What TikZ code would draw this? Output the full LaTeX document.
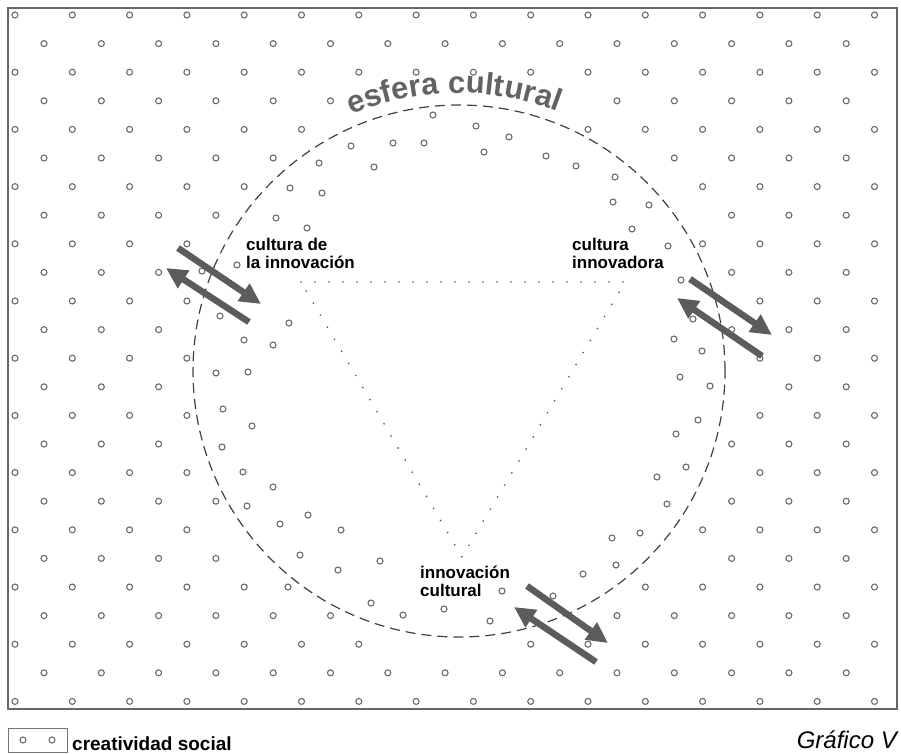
\documentclass[tikz,border=0pt]{standalone}
\usepackage{fontspec}
\setmainfont{Liberation Sans}
\usetikzlibrary{arrows.meta, decorations.text}
\definecolor{dotgray}{HTML}{6A6A6A}
\definecolor{arrowgray}{HTML}{5C5C5C}
\definecolor{titlegray}{HTML}{636363}
\tikzset{
    dot/.style={draw=dotgray, line width=1.1pt},
    flow/.style={-{Triangle[length=21pt, width=20pt]}, line width=6.5pt, arrowgray},
    lbl/.style={anchor=north west, inner sep=0pt, align=left, font=\fontsize{17}{18}\selectfont\bfseries},
    sphere/.style={draw=black!75, line width=1.2pt, dash pattern=on 10pt off 6pt},
    triline/.style={draw=black!65, line width=1.9pt, line cap=round, dash pattern=on 0pt off 14pt}
}

\begin{document}
\begin{tikzpicture}[x=1pt, y=1pt]
    \useasboundingbox (0,0) rectangle (901,-753);
    \draw[black!60, line width=1.4pt] (8,-8) rectangle (897,-709);

    % creatividad social: grid outside the sphere
    \foreach \k in {0,...,24}{
        \foreach \j in {0,...,15}{
            \pgfmathsetmacro\xx{(isodd(\k) ? 44 : 15) + 57.3*\j}
            \pgfmathsetmacro\yy{15 + 28.6*\k}
            \pgfmathtruncatemacro\keep{(veclen(\xx-459,\yy-371) > 271) && (\xx < 890) && !(\k==22 && (\j==7 || \j==8)) && !(\k==13 && \j==12) && !(\k==19 && \j==11) && !(\k==3 && \j>5 && \j<10)}
            \ifnum\keep=1 \draw[dot] (\xx,-\yy) circle[radius=3pt]; \fi
        }
    }
    % dots drawn inward along the sphere
    \foreach \x/\y in {290/188, 276/218, 307/228, 322/193, 319/163, 351/146, 374/167, 393/143,
        424/143, 433/115, 476/126, 484/152, 509/137, 546/156, 576/166,
        615/177, 613/202, 649/205, 632/229, 668/246, 681/280, 693/319, 674/339, 702/351,
        680/377, 710/386, 698/420, 676/434, 686/467, 657/477, 667/504, 640/533, 612/538, 616/565,
        583/574, 553/596, 502/591, 490/621, 444/609, 403/615, 371/603, 338/570, 380/561,
        341/530, 308/515, 300/555, 288/587, 280/524, 247/506,
        273/487, 243/472, 222/447, 252/426, 223/409, 248/372, 216/373, 273/345, 244/340,
        289/323, 220/316, 237/265, 202/271}
        \draw[dot] (\x,-\y) circle[radius=3pt];

    % esfera cultural
    \draw[sphere] (459,-371) circle[radius=266pt];
    \path[decorate, decoration={text along path, text align=center,
        text={|\fontsize{31}{31}\selectfont\bfseries\color{titlegray}|esfera cultural}}]
        (459,-371) ++(121:278pt) arc[start angle=121, end angle=61, radius=278pt];

    % triangle
    \coordinate (vcdi) at (301,-282);
    \coordinate (vcin) at (625,-282);
    \coordinate (vic) at (462,-557);
    \draw[triline] (vcdi) -- (vcin) -- (vic) -- cycle;

    % arrows
    \coordinate (cdi-s1) at (178,-248); \coordinate (cdi-e1) at (261,-304);
    \coordinate (cdi-s2) at (249,-322); \coordinate (cdi-e2) at (166,-268);
    \coordinate (cin-s1) at (690,-279); \coordinate (cin-e1) at (772,-335);
    \coordinate (cin-s2) at (762,-356); \coordinate (cin-e2) at (677,-298);
    \coordinate (ic-s1) at (527,-586); \coordinate (ic-e1) at (608,-643);
    \coordinate (ic-s2) at (596,-662); \coordinate (ic-e2) at (514,-607);
    \draw[flow] (cdi-s1) -- (cdi-e1);
    \draw[flow] (cdi-s2) -- (cdi-e2);
    \draw[flow] (cin-s1) -- (cin-e1);
    \draw[flow] (cin-s2) -- (cin-e2);
    \draw[flow] (ic-s1) -- (ic-e1);
    \draw[flow] (ic-s2) -- (ic-e2);

    % labels
    \node[lbl] (cdi) at (246,-238) {cultura de\\la innovación};
    \node[lbl] (cin) at (572,-238) {cultura\\innovadora};
    \node[lbl] (ic) at (420,-566) {innovación\\cultural};

    % legend
    \node[draw=black!55, line width=1pt, minimum width=59pt, minimum height=24pt, inner sep=0pt, anchor=north west] (legbox) at (8,-728) {};
    \draw[dot] (23,-740) circle[radius=3pt];
    \draw[dot] (52,-740) circle[radius=3pt];
    \node[anchor=base west, inner sep=0pt, font=\fontsize{19}{19}\selectfont\bfseries] (legtxt) at (72,-750) {creatividad social};
    \node[anchor=base east, inner sep=0pt, font=\fontsize{24}{24}\selectfont\itshape] (grafico) at (897,-748) {Gráfico V};
\end{tikzpicture}
\end{document}
